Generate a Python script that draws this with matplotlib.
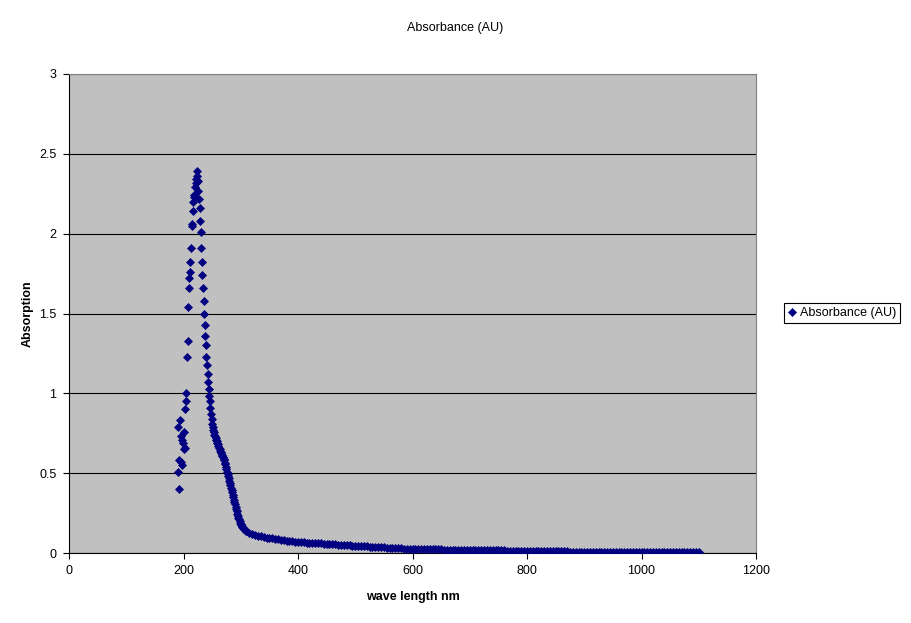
import matplotlib
matplotlib.use("Agg")
import matplotlib.pyplot as plt

# ------------------------------
# Data
# ------------------------------

# peak + shoulder region, 1 nm steps 190..310
PEAK_WL = list(range(190, 311))
PEAK_ABS = [
    0.51, 0.79, 0.58, 0.40, 0.83, 0.57, 0.73, 0.55, 0.71, 0.69,   # 190-199
    0.65, 0.76, 0.66, 0.90, 0.95, 1.00, 1.23, 1.33, 1.54, 1.66,   # 200-209
    1.72, 1.76, 1.82, 1.91, 2.05, 2.06, 2.14, 2.20, 2.23, 2.24,   # 210-219
    2.29, 2.32, 2.34, 2.36, 2.39, 2.33, 2.27, 2.22, 2.16, 2.08,   # 220-229
    2.01, 1.91, 1.82, 1.74, 1.66, 1.58, 1.50, 1.43, 1.36, 1.30,   # 230-239
    1.23, 1.175, 1.12, 1.07, 1.03, 0.985, 0.95, 0.91, 0.87, 0.84, # 240-249
    0.81, 0.79, 0.77, 0.755, 0.74, 0.73, 0.72, 0.71, 0.70, 0.69,  # 250-259
    0.68, 0.67, 0.66, 0.65, 0.64, 0.635, 0.625, 0.615, 0.61, 0.60, # 260-269
    0.59, 0.58, 0.565, 0.555, 0.54, 0.525, 0.51, 0.497, 0.483, 0.468, # 270-279
    0.453, 0.438, 0.424, 0.41, 0.395, 0.38, 0.365, 0.35, 0.335, 0.32, # 280-289
    0.305, 0.29, 0.275, 0.26, 0.245, 0.232, 0.22, 0.21, 0.20, 0.19,   # 290-299
    0.182, 0.175, 0.168, 0.162, 0.157, 0.152, 0.148, 0.145, 0.141, 0.138, # 300-309
    0.135,                                                            # 310
]

# tail, 5 nm steps 315..600
MID_WL = list(range(315, 601, 5))
MID_ABS = [
    0.126, 0.119, 0.114, 0.108, 0.104, 0.099, 0.096, 0.093, 0.091, 0.088,
    0.086, 0.083, 0.081, 0.078, 0.076, 0.074, 0.072, 0.070, 0.068, 0.067,
    0.065, 0.064, 0.063, 0.062, 0.061, 0.060, 0.058, 0.057, 0.056, 0.055,
    0.054, 0.052, 0.051, 0.050, 0.049, 0.047, 0.046, 0.045, 0.044, 0.043,
    0.042, 0.041, 0.040, 0.039, 0.038, 0.037, 0.036, 0.035, 0.034, 0.033,
    0.032, 0.031, 0.030, 0.029, 0.028, 0.027, 0.027, 0.026,
]

# far tail, 5 nm steps 605..1100
TAIL_WL = list(range(605, 1101, 5))
TAIL_ABS = [
    0.026, 0.025, 0.025, 0.025, 0.024, 0.024, 0.023, 0.023, 0.022, 0.022,  # 605-650
    0.021, 0.021, 0.020, 0.020, 0.020, 0.020, 0.019, 0.019, 0.019, 0.019,  # 655-700
    0.018, 0.018, 0.018, 0.018, 0.017, 0.017, 0.017, 0.017, 0.016, 0.016,  # 705-750
    0.016, 0.016, 0.015, 0.015, 0.015, 0.015, 0.014, 0.014, 0.013, 0.013,  # 755-800
    0.013, 0.013, 0.012, 0.012, 0.012, 0.012, 0.011, 0.011, 0.011, 0.011,  # 805-850
    0.010, 0.010, 0.010, 0.010, 0.009, 0.009, 0.009, 0.009, 0.008, 0.008,  # 855-900
    0.008, 0.008, 0.008, 0.008, 0.007, 0.007, 0.007, 0.007, 0.007, 0.007,  # 905-950
    0.007, 0.007, 0.006, 0.006, 0.006, 0.006, 0.006, 0.006, 0.006, 0.006,  # 955-1000
    0.006, 0.006, 0.005, 0.005, 0.005, 0.005, 0.005, 0.005, 0.005, 0.005,  # 1005-1050
    0.005, 0.005, 0.005, 0.005, 0.005, 0.005, 0.005, 0.005, 0.005, 0.005,  # 1055-1100
]

X_TICKS = [0, 200, 400, 600, 800, 1000, 1200]
Y_TICKS = [0, 0.5, 1, 1.5, 2, 2.5, 3]
Y_TICK_LABELS = ["0", "0.5", "1", "1.5", "2", "2.5", "3"]

SERIES_NAME = "Absorbance (AU)"
NAVY = "#000080"
PLOT_BG = "#C0C0C0"

plt.rcParams["font.family"] = ["Liberation Sans", "DejaVu Sans"]
plt.rcParams["font.size"] = 9


def main():
    wl = PEAK_WL + MID_WL + TAIL_WL
    ab = PEAK_ABS + MID_ABS + TAIL_ABS

    fig = plt.figure(figsize=(9.11, 6.23), dpi=100)
    fig.patch.set_facecolor("white")
    ax = fig.add_axes([69 / 911, 1 - 553 / 623, (756 - 69) / 911, (553 - 74) / 623])
    ax.set_facecolor(PLOT_BG)

    ax.plot(wl, ab, linestyle="none", marker="D", markersize=3.6,
            markerfacecolor=NAVY, markeredgecolor=NAVY, markeredgewidth=0.5,
            label=SERIES_NAME, zorder=3)

    ax.set_xlim(0, 1200)
    ax.set_ylim(0, 3)
    ax.set_xticks(X_TICKS)
    ax.set_yticks(Y_TICKS)
    ax.set_yticklabels(Y_TICK_LABELS)
    ax.tick_params(direction="out", length=4, width=0.8, colors="black",
                   labelsize=9, pad=5)

    # horizontal grid only
    ax.yaxis.grid(True, color="black", linewidth=0.8)
    ax.xaxis.grid(False)
    ax.set_axisbelow(True)

    for side in ("left", "bottom"):
        ax.spines[side].set_color("black")
        ax.spines[side].set_linewidth(0.8)
    for side in ("top", "right"):
        ax.spines[side].set_color("#808080")
        ax.spines[side].set_linewidth(0.8)

    ax.set_xlabel("wave length nm", fontweight="bold", fontsize=9, labelpad=10)
    ax.set_ylabel("Absorption", fontweight="bold", fontsize=9, labelpad=4)

    fig.text(0.5, 1 - 28.5 / 623, SERIES_NAME, ha="center", va="center", fontsize=9)

    leg = fig.legend(loc="center", bbox_to_anchor=(842 / 911, 1 - 313 / 623),
                     fancybox=False, framealpha=1, edgecolor="black",
                     handlelength=0.6, handletextpad=0.3, borderpad=0.35,
                     fontsize=9, markerscale=1.0)
    leg.get_frame().set_linewidth(0.8)

    fig.savefig("out.png", dpi=100)
    plt.close(fig)


if __name__ == "__main__":
    main()
